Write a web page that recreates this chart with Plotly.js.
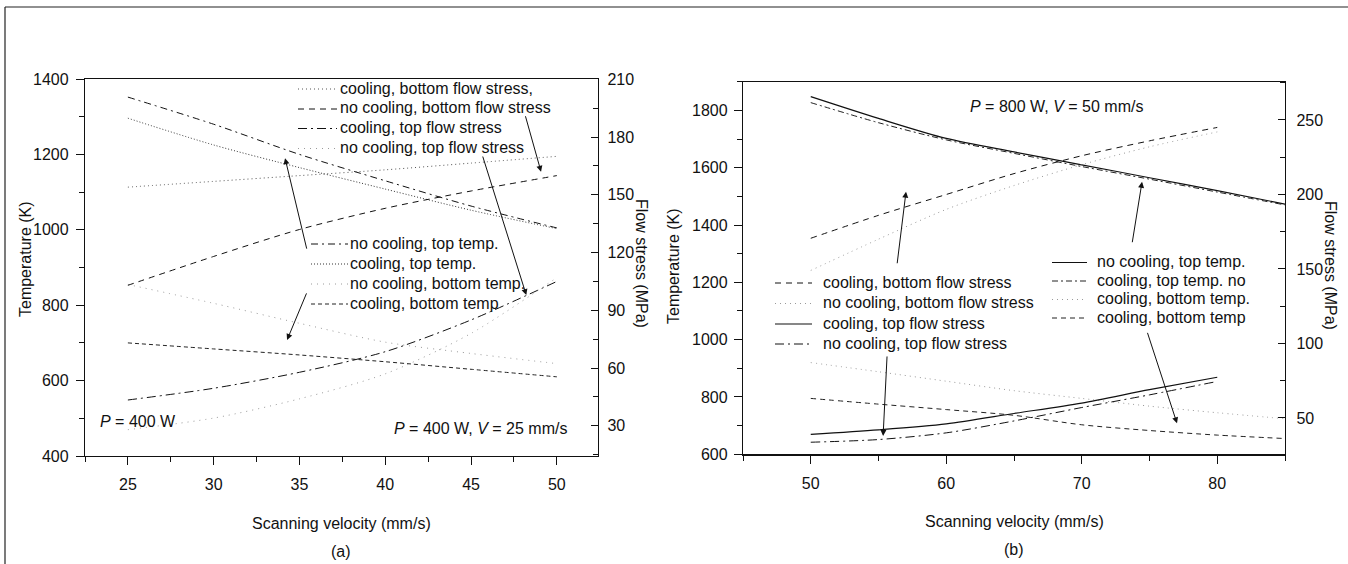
<!DOCTYPE html>
<html>
<head>
<meta charset="utf-8">
<script src="https://cdn.plot.ly/plotly-3.0.1.min.js"></script>
<style>html,body{margin:0;padding:0;background:#fff;}#chart{width:1348px;height:564px;}</style>
</head>
<body>
<div id="chart"></div>
<script>
// ---------- data: panel (a) P = 400 W ----------
const velA = [25, 30, 35, 40, 45, 50];
const noCoolTopTempA   = [1352, 1280, 1200, 1130, 1063, 1005];
const coolTopTempA     = [1296, 1225, 1165, 1108, 1052, 1003];
const noCoolBotTempA   = [855, 805, 752, 702, 672, 645];
const coolBotTempA     = [700, 684, 668, 650, 630, 610];
const coolBotStressA   = [154, 157, 160, 163, 166.5, 170];
const noCoolBotStressA = [103, 118, 132, 143, 152, 160];
const coolTopStressA   = [43.4, 49.5, 57.8, 68.5, 85, 105];
const noCoolTopStressA = [28, 34, 44, 57, 78, 107];

// ---------- data: panel (b) P = 800 W ----------
const velBT = [50, 55, 60, 65, 70, 75, 80, 85];
const noCoolTopTempB = [1848, 1772, 1702, 1655, 1610, 1565, 1520, 1473];
const coolTopTempB   = [1827, 1757, 1697, 1650, 1604, 1560, 1515, 1470];
const coolBotTempDotB  = [920, 888, 855, 822, 795, 768, 745, 724];
const coolBotTempDashB = [795, 775, 756, 736, 703, 683, 667, 655];
const velBS = [50, 55, 60, 65, 70, 75, 80];
const coolBotStressB   = [170.6, 186, 200, 214, 226, 236, 245];
const noCoolBotStressB = [149, 170, 190, 206, 220, 232, 242];
const coolTopStressB   = [39, 42, 46, 53, 60, 69, 77.3];
const noCoolTopStressB = [33.7, 35.5, 40, 48, 57, 65.5, 74.5];

// legend labels
const legA1 = ["cooling, bottom flow stress,", "no cooling, bottom flow stress", "cooling, top flow stress", "no cooling, top flow stress"];
const legA2 = ["no cooling, top temp.", "cooling, top temp.", "no cooling, bottom temp.", "cooling, bottom temp"];
const legB1 = ["cooling, bottom flow stress", "no cooling, bottom flow stress", "cooling, top flow stress", "no cooling, top flow stress"];
const legB2 = ["no cooling, top temp.", "cooling, top temp. no", "cooling, bottom temp.", "cooling, bottom temp"];

const W = 1348, H = 564;
const px = x => x / W;
const py = y => 1 - y / H;
const FONT = "'Liberation Sans', Arial, Helvetica, sans-serif";
const FS = 16;

// styles
const S = {
  dashdotA: {color: '#111', width: 1, dash: '7px,4px,2px,4px'},
  dotDark:  {color: '#333', width: 1, dash: '1px,2px'},
  dotLight: {color: '#9a9a9a', width: 1, dash: '1px,5px'},
  shortDash:{color: '#222', width: 1, dash: '4px,3px'},
  dotMed:   {color: '#555', width: 1, dash: '1px,3px'},
  dash:     {color: '#111', width: 1, dash: '6px,5px'},
  longDashDot: {color: '#111', width: 1, dash: '9px,4px,2px,4px'},
  solid:    {color: '#111', width: 1.2, dash: 'solid'},
  dashdotB: {color: '#222', width: 1, dash: '6px,3px,2px,3px'},
  dotLightB:{color: '#9a9a9a', width: 1, dash: '1px,4px'},
  dashB:    {color: '#222', width: 1, dash: '5px,4px'}
};

function tr(x, y, st, xa, ya, name) {
  return {x: x, y: y, type: 'scatter', mode: 'lines', name: name, xaxis: xa, yaxis: ya,
          line: Object.assign({shape: 'spline', smoothing: 0.8}, st), showlegend: false, hoverinfo: 'skip'};
}

const traces = [
  tr(velA, noCoolTopTempA, S.dashdotA, 'x', 'y', legA2[0]),
  tr(velA, coolTopTempA, S.dotDark, 'x', 'y', legA2[1]),
  tr(velA, noCoolBotTempA, S.dotLight, 'x', 'y', legA2[2]),
  tr(velA, coolBotTempA, S.shortDash, 'x', 'y', legA2[3]),
  tr(velA, coolBotStressA, S.dotMed, 'x', 'y2', legA1[0]),
  tr(velA, noCoolBotStressA, S.dash, 'x', 'y2', legA1[1]),
  tr(velA, coolTopStressA, S.longDashDot, 'x', 'y2', legA1[2]),
  tr(velA, noCoolTopStressA, S.dotLight, 'x', 'y2', legA1[3]),

  tr(velBT, noCoolTopTempB, S.solid, 'x2', 'y3', legB2[0]),
  tr(velBT, coolTopTempB, S.dashdotB, 'x2', 'y3', legB2[1]),
  tr(velBT, coolBotTempDotB, S.dotLightB, 'x2', 'y3', legB2[2]),
  tr(velBT, coolBotTempDashB, S.dashB, 'x2', 'y3', legB2[3]),
  tr(velBS, coolBotStressB, S.dash, 'x2', 'y4', legB1[0]),
  tr(velBS, noCoolBotStressB, S.dotLightB, 'x2', 'y4', legB1[1]),
  tr(velBS, coolTopStressB, S.solid, 'x2', 'y4', legB1[2]),
  tr(velBS, noCoolTopStressB, S.longDashDot, 'x2', 'y4', legB1[3])
];

const legendStylesA1 = [S.dotMed, S.dash, S.longDashDot, S.dotLight];
const legendStylesA2 = [S.dashdotA, S.dotDark, S.dotLight, S.shortDash];
const legendStylesB1 = [S.dash, S.dotLightB, S.solid, S.longDashDot];
const legendStylesB2 = [S.solid, S.dashdotB, S.dotLightB, S.dashB];

const annotations = [];
const shapes = [];
function legendBlock(labels, styles, sx0, sx1, tx, rows) {
  labels.forEach((lab, i) => {
    annotations.push({xref: 'paper', yref: 'paper', x: px(tx), y: py(rows[i]), xanchor: 'left', yanchor: 'middle',
      text: lab, showarrow: false, font: {family: FONT, size: FS, color: '#111'}, borderpad: 0});
    shapes.push({type: 'line', xref: 'paper', yref: 'paper', x0: px(sx0), x1: px(sx1), y0: py(rows[i] + 1), y1: py(rows[i] + 1),
      line: {color: styles[i].color, width: styles[i].width, dash: styles[i].dash}});
  });
}
legendBlock(legA1, legendStylesA1, 298, 337, 339, [88, 108, 127.5, 147.5]);
legendBlock(legA2, legendStylesA2, 311, 348, 349, [243, 263, 283, 303]);
legendBlock(legB1, legendStylesB1, 775, 812, 822, [282, 302.5, 323, 343]);
legendBlock(legB2, legendStylesB2, 1052, 1087, 1096, [261.5, 280, 298.5, 317]);

function txt(x, y, t, extra) {
  annotations.push(Object.assign({xref: 'paper', yref: 'paper', x: px(x), y: py(y), text: t, showarrow: false,
    font: {family: FONT, size: FS, color: '#111'}, xanchor: 'center', yanchor: 'middle'}, extra || {}));
}
txt(25, 259, 'Temperature (K)', {textangle: -90});
txt(642, 263, 'Flow stress (MPa)', {textangle: 90});
txt(673, 266, 'Temperature (K)', {textangle: -90});
txt(1331, 265, 'Flow stress (MPa)', {textangle: 90});
txt(341, 523, 'Scanning velocity (mm/s)');
txt(341, 551, '(a)');
txt(1014, 521, 'Scanning velocity (mm/s)');
txt(1014, 549, '(b)');
txt(98, 421, '<i>P</i> = 400 W', {xanchor: 'left'});
txt(392, 428, '<i>P</i> = 400 W, <i>V</i> = 25 mm/s', {xanchor: 'left'});
txt(968, 106, '<i>P</i> = 800 W, <i>V</i> = 50 mm/s', {xanchor: 'left'});

function arrow(xa, ya, x, y, ax, ay) {
  annotations.push({xref: xa, yref: ya, x: x, y: y, ax: ax, ay: ay, text: '', showarrow: true,
    arrowhead: 2, arrowsize: 1.2, arrowwidth: 1, arrowcolor: '#111', standoff: 0, startstandoff: 0});
}
arrow('x', 'y', 34.16, 1190, 22, 92);
arrow('x', 'y', 34.28, 708, 20, -48);
arrow('x', 'y', 49.08, 1154, -16, -57);
arrow('x', 'y', 48.22, 827, -44, -140);
arrow('x2', 'y3', 57.03, 1516, -9, 73);
arrow('x2', 'y3', 55.34, 664, 4, -81);
arrow('x2', 'y3', 74.45, 1551, -10, 62);
arrow('x2', 'y3', 77.03, 708, -30, -92);

// outer frame (top and left edges of the scanned figure)
shapes.push({type: 'line', xref: 'paper', yref: 'paper', x0: px(5), x1: 1, y0: py(7), y1: py(7), line: {color: '#222', width: 1.2}});
shapes.push({type: 'line', xref: 'paper', yref: 'paper', x0: px(5), x1: px(5), y0: py(7), y1: 0, line: {color: '#222', width: 1.2}});

const tickFont = {family: FONT, size: FS, color: '#111'};
const baseAxis = {showgrid: false, zeroline: false, showline: true, linecolor: '#111', linewidth: 1.2,
  ticks: 'outside', ticklen: 8, tickwidth: 1, tickcolor: '#111', tickfont: tickFont, fixedrange: true};

const layout = {
  width: W, height: H, margin: {l: 0, r: 0, t: 0, b: 0}, paper_bgcolor: '#fff', plot_bgcolor: '#fff',
  showlegend: false, font: {family: FONT, size: FS, color: '#111'},
  xaxis: Object.assign({}, baseAxis, {domain: [px(85), px(598)], anchor: 'y', range: [22.5, 52.4], tick0: 0, dtick: 5,
    mirror: true, ticklabelstandoff: 6,
    minor: {dtick: 2.5, ticks: 'outside', ticklen: 5, tickcolor: '#111', tickwidth: 1}}),
  yaxis: Object.assign({}, baseAxis, {domain: [py(456), py(79)], anchor: 'x', range: [400, 1400], dtick: 200, tick0: 0,
    ticklabelstandoff: 4, minor: {dtick: 100, ticks: 'outside', ticklen: 5, tickcolor: '#111', tickwidth: 1}}),
  yaxis2: Object.assign({}, baseAxis, {overlaying: 'y', side: 'right', anchor: 'x', range: [14.3, 210.2], dtick: 30, tick0: 0,
    ticks: 'inside', ticklen: 7, ticklabelstandoff: 5,
    minor: {dtick: 15, ticks: 'inside', ticklen: 5, tickcolor: '#111', tickwidth: 1}}),
  xaxis2: Object.assign({}, baseAxis, {domain: [px(743), px(1285)], anchor: 'y3', range: [45, 85], tick0: 0, dtick: 10,
    mirror: true, ticklabelstandoff: 6,
    minor: {dtick: 5, ticks: 'outside', ticklen: 5, tickcolor: '#111', tickwidth: 1}}),
  yaxis3: Object.assign({}, baseAxis, {domain: [py(454.3), py(81.7)], anchor: 'x2', range: [600, 1900], dtick: 200, tick0: 0,
    ticklabelstandoff: 3, minor: {dtick: 100, ticks: 'outside', ticklen: 5, tickcolor: '#111', tickwidth: 1}}),
  yaxis4: Object.assign({}, baseAxis, {overlaying: 'y3', side: 'right', anchor: 'x2', range: [25.6, 275.7], dtick: 50, tick0: 0,
    ticks: 'inside', ticklen: 7, ticklabelstandoff: 7,
    minor: {dtick: 25, ticks: 'inside', ticklen: 5, tickcolor: '#111', tickwidth: 1}}),
  annotations: annotations,
  shapes: shapes
};

Plotly.newPlot('chart', traces, layout, {staticPlot: true, displayModeBar: false});
</script>
</body>
</html>
